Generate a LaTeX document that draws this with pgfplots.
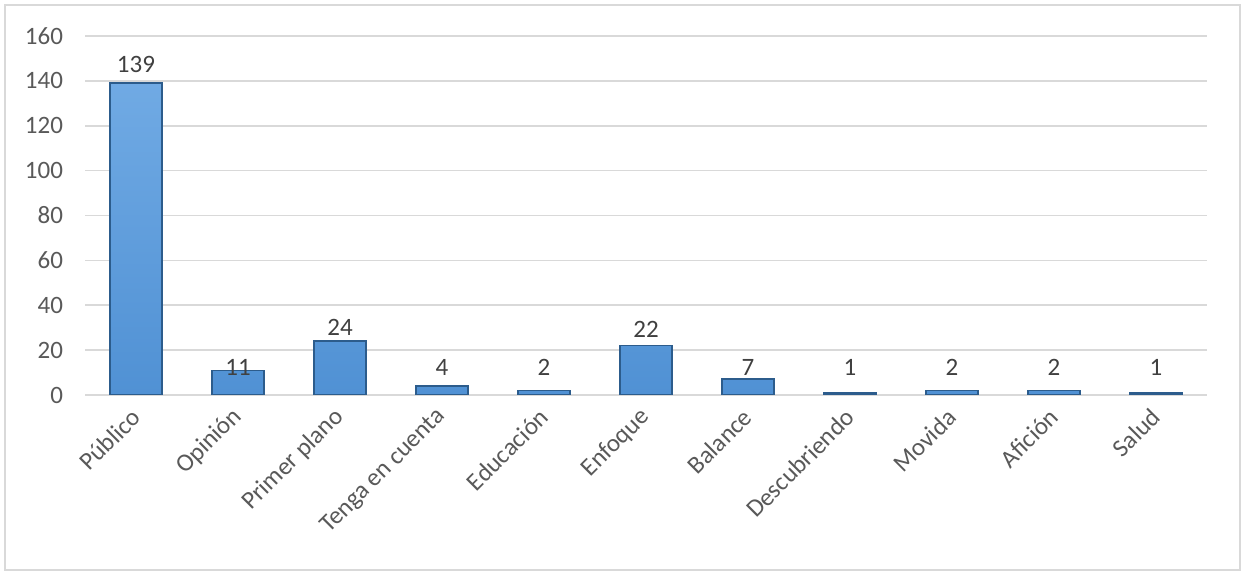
\documentclass[border=0pt]{standalone}
\usepackage{fontspec}
\setmainfont{Carlito}
\usepackage{pgfplots}
\usepackage{pgfplotstable}
\pgfplotsset{compat=1.18}

\definecolor{framegray}{RGB}{217,217,217}
\definecolor{gridgray}{RGB}{217,217,217}
\definecolor{tickgray}{RGB}{89,89,89}
\definecolor{labelgray}{RGB}{64,64,64}
\definecolor{bartop}{RGB}{112,170,228}
\definecolor{barbot}{RGB}{80,145,212}
\definecolor{bardark}{RGB}{44,92,140}

% x = category index, v = value, ly = where the value label sits
\pgfplotstableread{
x v ly
0 139 143.9
1 11 8.6
2 24 26.7
3 4 8.6
4 2 8.6
5 22 25.8
6 7 8.6
7 1 8.6
8 2 8.6
9 2 8.6
10 1 8.6
}\data

\begin{document}
\begin{tikzpicture}[x=1pt,y=1pt]
\useasboundingbox (0,0) rectangle (623,288.5);
\draw[framegray, line width=1pt] (2.5,3.5) rectangle (620,286);
\begin{axis}[
  at={(42.5pt,91pt)}, anchor=south west,
  scale only axis,
  width=561pt, height=179.5pt,
  xmin=-0.5, xmax=10.5,
  ymin=0, ymax=160,
  ytick={0,20,...,160},
  xtick={0,...,10},
  xticklabels={Público, Opinión, Primer plano, Tenga en cuenta, Educación,
    Enfoque, Balance, Descubriendo, Movida, Afición, Salud},
  axis lines=left,
  axis line style={-},
  y axis line style={draw=none},
  x axis line style={draw=gridgray, line width=1pt},
  major tick length=0pt,
  ymajorgrids,
  grid style={gridgray, line width=0.8pt},
  /pgf/number format/assume math mode=true,
  ticklabel style={font=\fontsize{12.5}{14}\selectfont, text=tickgray},
  yticklabel style={xshift=-7.5pt},
  xticklabel style={rotate=45, anchor=east, inner sep=0pt},
  xticklabel shift=9pt,
]
\addplot[ybar, bar width=26pt, bar shift=0pt, draw=bardark, line width=0.8pt,
  top color=bartop, bottom color=barbot] table[x=x, y=v] {\data};
\addplot[draw=none, mark=none, nodes near coords, point meta=explicit symbolic,
  nodes near coords style={anchor=base, inner sep=0pt,
    font=\fontsize{12.5}{14}\selectfont, text=labelgray}]
  table[x=x, y=ly, meta=v] {\data};
\end{axis}
\end{tikzpicture}
\end{document}
